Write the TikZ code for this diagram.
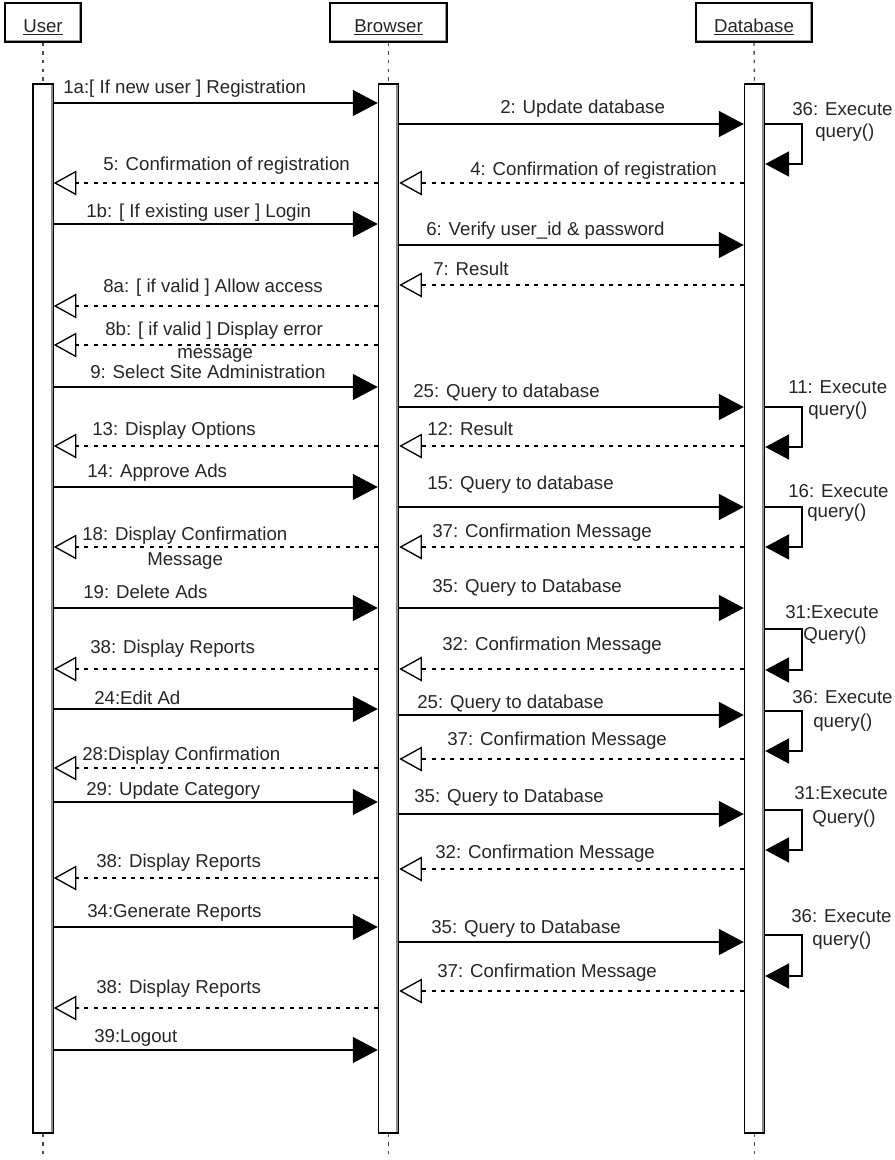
\documentclass[tikz,border=0pt]{standalone}
\usepackage{fontspec}
\setmainfont{Liberation Sans}
\usetikzlibrary{arrows.meta}
\newcommand\headtext[1]{\raisebox{-7.5pt}[0pt][0pt]{\underline{#1}}}
\begin{document}
\begin{tikzpicture}[x=0.75pt,y=-0.75pt,
  every node/.style={font=\fontsize{14}{16}\selectfont, text=black!85, inner sep=0pt},
  head/.style={draw=black, line width=0.8pt, minimum height=29.25pt, fill=white},
  bar/.style={draw=black, line width=1.1pt, fill=white, minimum width=15pt, minimum height=786.75pt},
  barshade/.style={black!45, line width=1.4pt},
  lifeline/.style={black!70, line width=1pt, dash pattern=on 2.5pt off 4pt},
  sync/.style={line width=1.2pt, -{Triangle[length=18.75pt,width=19.5pt]}},
  reply/.style={line width=1pt, dash pattern=on 3pt off 4pt,
    -{Triangle[open,length=17pt,width=18.5pt,line width=1pt]}},
  selfcall/.style={line width=1pt, -{Triangle[length=18pt,width=19pt]}},
  lbl/.style={anchor=base west},
]
\useasboundingbox (0,0) rectangle (894,1160);

% participants
\node[head, minimum width=57pt]    (user)    at (43,22.5)  {\headtext{User}};
\node[head, minimum width=87.75pt] (browser) at (388.5,22.5) {\headtext{Browser}};
\node[head, minimum width=87pt]    (db)      at (754,22.5) {\headtext{Database}};
\foreach \h in {user,browser,db}{
  \draw[black!40, line width=1pt] ([xshift=-1.3pt,yshift=-1pt]\h.north east) -- ([xshift=-1.3pt,yshift=1.3pt]\h.south east) -- ([xshift=1pt,yshift=1.3pt]\h.south west);
}

% activation bars
\node[bar] (ubar) at (43,608.5) {};
\node[bar] (bbar) at (388.5,608.5) {};
\node[bar] (dbar) at (754.5,608.5) {};
\foreach \b in {ubar,bbar,dbar}{
  \draw[barshade] ([xshift=-1.5pt,yshift=-1pt]\b.north east) -- ([xshift=-1.5pt,yshift=1pt]\b.south east);
}

% lifelines
\coordinate (uend) at (43,1160);
\coordinate (bend) at (388.5,1160);
\coordinate (dend) at (754.5,1160);
\draw[lifeline] (user.south) -- (ubar.north);
\draw[lifeline] (browser.south) -- (bbar.north);
\draw[lifeline] (db.south) -- (dbar.north);
\draw[lifeline] (ubar.south) -- (uend);
\draw[lifeline] (bbar.south) -- (bend);
\draw[lifeline] (dbar.south) -- (dend);

% User -> Browser
\foreach \y/\lx/\ly/\t [count=\i] in {
  103/63/93/{1a:[ If new user ] Registration},
  224/86/217/{1b: [ If existing user ] Login},
  387/90/378/{9: Select Site Administration},
  487/87/477/{14: Approve Ads},
  608/83/598/{19: Delete Ads},
  709/94/704/{24:Edit Ad},
  802/86/795/{29: Update Category},
  927/87/917/{34:Generate Reports},
  1050/94/1042/{39:Logout}}{
  \coordinate (ub\i) at (0,\y);
  \draw[sync] (ubar.east |- ub\i) -- (bbar.west |- ub\i);
  \node[lbl] (ubl\i) at (\lx,\ly) {\t};
}

% Browser -> Database
\foreach \y/\lx/\ly/\t [count=\i] in {
  124/500/113/{2: Update database},
  245/426/235/{6: Verify user\_id \& password},
  407/413/397/{25: Query to database},
  507/427/489/{15: Query to database},
  608/432/592/{35: Query to Database},
  715/417/708/{25: Query to database},
  814/414/802/{35: Query to Database},
  942/431/933/{35: Query to Database}}{
  \coordinate (bd\i) at (0,\y);
  \draw[sync] (bbar.east |- bd\i) -- (dbar.west |- bd\i);
  \node[lbl] (bdl\i) at (\lx,\ly) {\t};
}

% Database -> Browser replies
\foreach \y/\lx/\ly/\t [count=\i] in {
  183/470/175/{4: Confirmation of registration},
  285/433/275/{7: Result},
  446/427/435/{12: Result},
  547/432/537/{37: Confirmation Message},
  669/442/650/{32: Confirmation Message},
  759/447/745/{37: Confirmation Message},
  869/435/858/{32: Confirmation Message},
  991/437/977/{37: Confirmation Message}}{
  \coordinate (db\i) at (0,\y);
  \draw[reply] (dbar.west |- db\i) -- (bbar.east |- db\i);
  \node[lbl] (dbl\i) at (\lx,\ly) {\t};
}

% Browser -> User replies
\foreach \y/\lx/\ly/\t [count=\i] in {
  183/103/170/{5: Confirmation of registration},
  306/103/292/{8a: [ if valid ] Allow access},
  345/105/335/{8b: [ if valid ] Display error},
  446/92/435/{13: Display Options},
  547/82/540/{18: Display Confirmation},
  669/90/653/{38: Display Reports},
  768/82/760/{28:Display Confirmation},
  878/96/867/{38: Display Reports},
  1008/96/993/{38: Display Reports}}{
  \coordinate (bu\i) at (0,\y);
  \draw[reply] (bbar.west |- bu\i) -- (ubar.east |- bu\i);
  \node[lbl] (bul\i) at (\lx,\ly) {\t};
}
\node[lbl] (bul3b) at (177,358) {message};
\node[lbl] (bul5b) at (147,565) {Message};

% Database self calls
\coordinate (loopx) at (802,0);
\foreach \ya/\yb/\ax/\ay/\at/\bx/\by/\bt [count=\i] in {
  124/164/792/115/{36: Execute}/815/137/{query()},
  407/447/788/393/{11: Execute}/808/415/{query()},
  507/547/788/497/{16: Execute}/807/517/{query()},
  629/670/785/618/{31:Execute}/803/640/{Query()},
  711/751/792/703/{36: Execute}/813/727/{query()},
  810/850/794/799/{31:Execute}/812/823/{Query()},
  935/976/791/922/{36: Execute}/812/945/{query()}}{
  \coordinate (sa\i) at (0,\ya);
  \coordinate (sb\i) at (0,\yb);
  \draw[selfcall] (dbar.east |- sa\i) -| (loopx |- sb\i) -- (dbar.east |- sb\i);
  \node[lbl] (sl\i) at (\ax,\ay) {\at};
  \node[lbl] (sm\i) at (\bx,\by) {\bt};
}
\end{tikzpicture}
\end{document}
